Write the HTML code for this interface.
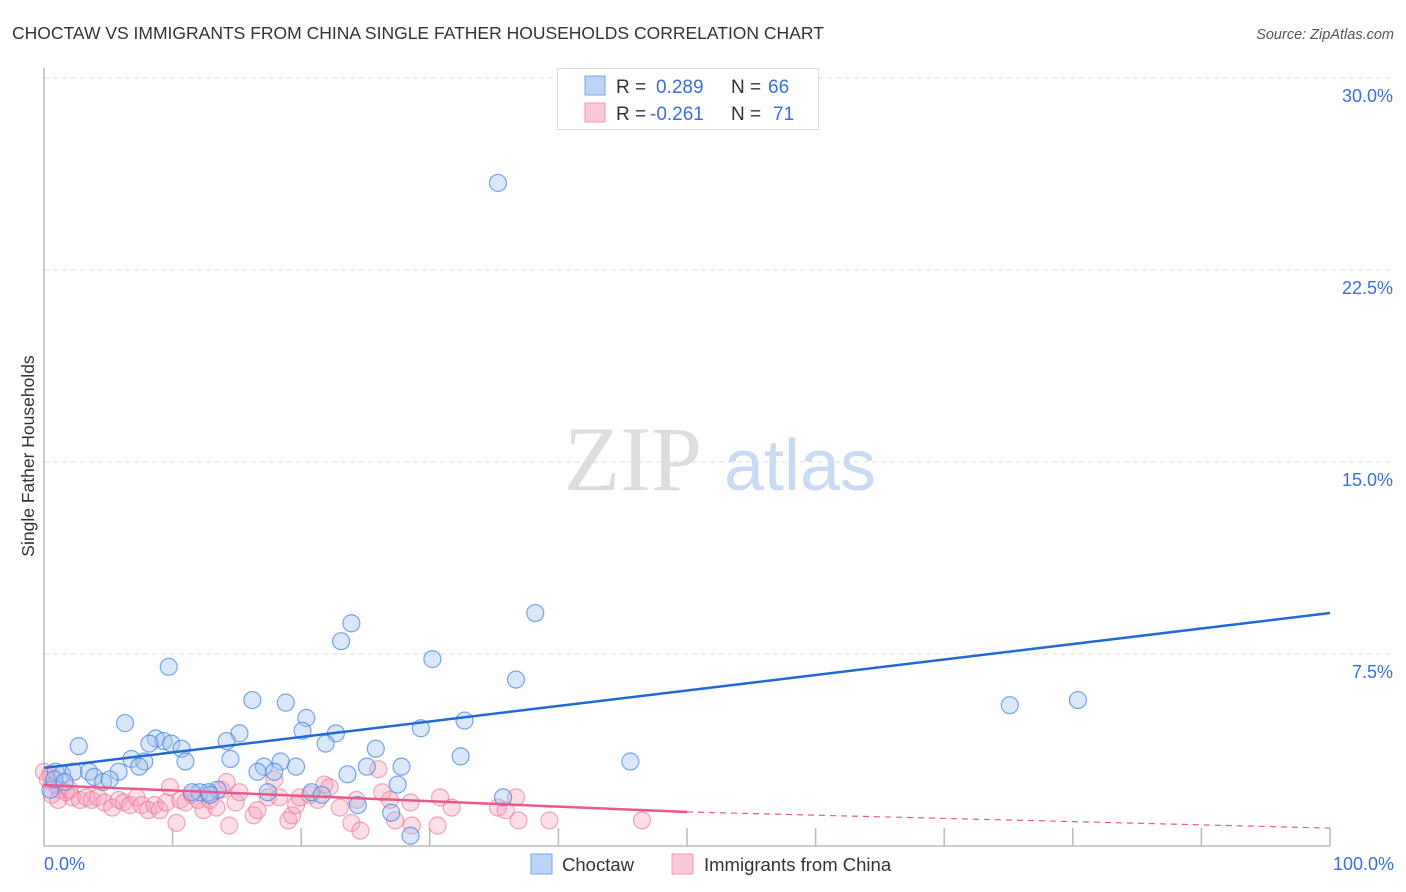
<!DOCTYPE html>
<html><head><meta charset="utf-8"><style>
body{margin:0;background:#fff;font-family:"Liberation Sans",sans-serif}
svg{display:block}
</style></head><body>
<svg id="chart" width="1406" height="892" xmlns="http://www.w3.org/2000/svg">
<text x="12" y="39" font-size="17.5" fill="#333">CHOCTAW VS IMMIGRANTS FROM CHINA SINGLE FATHER HOUSEHOLDS CORRELATION CHART</text>
<text x="1394" y="39" font-size="14.5" fill="#555" font-style="italic" text-anchor="end">Source: ZipAtlas.com</text>
<g>
<text x="633" y="490" font-size="92" font-family="Liberation Serif,serif" fill="#ddd" text-anchor="middle">ZIP</text>
<text x="800" y="490" font-size="72" fill="#c9daf2" text-anchor="middle">atlas</text>
</g>
<g id="grid"></g>
<g id="axes"></g>
<text transform="translate(34,456) rotate(-90)" font-size="17.5" fill="#333" text-anchor="middle">Single Father Households</text>
<g id="pts"></g>
<g id="lines"></g>
<g>
<rect x="557.5" y="68.5" width="261" height="61" fill="#fff" stroke="#ddd"/>
<rect x="585" y="76" width="20" height="19" fill="#bcd4f5" stroke="#7aa6e6"/>
<rect x="585" y="103" width="20" height="19" fill="#fbc9d8" stroke="#f09ab5"/>
<text x="616" y="93" font-size="19" fill="#333">R = <tspan fill="#3a6fd8" x="656">0.289</tspan><tspan x="731" fill="#333">N = </tspan><tspan fill="#3a6fd8" x="768">66</tspan></text>
<text x="616" y="120" font-size="19" fill="#333">R = <tspan fill="#3a6fd8" x="650">-0.261</tspan><tspan x="731" fill="#333">N = </tspan><tspan fill="#3a6fd8" x="773">71</tspan></text>
</g>
<g>
<rect x="531" y="854" width="21" height="20" fill="#bcd4f5" stroke="#7aa6e6"/>
<text x="562" y="871" font-size="18.5" fill="#333">Choctaw</text>
<rect x="672" y="854" width="21" height="20" fill="#fbc9d8" stroke="#f09ab5"/>
<text x="704" y="871" font-size="18.5" fill="#333">Immigrants from China</text>
</g>
</svg>
<script>
const yTicks=[7.5,15,22.5,30];
const yTickLabels=["7.5%","15.0%","22.5%","30.0%"];
const xEndLabels=["0.0%","100.0%"];
const blueX=[35.3,38.2,23.9,23.1,9.7,30.2,36.7,16.2,18.8,75.1,80.4,20.4,6.3,32.7,15.2,29.3,20.1,22.7,8.7,9.3,2.7,8.2,9.9,10.7,21.9,14.2,25.8,32.4,6.8,7.8,7.4,11.0,14.5,18.4,17.1,45.6,5.8,16.6,17.9,19.6,25.1,27.8,23.6,0.9,1.4,2.3,3.5,3.9,4.6,5.1,0.5,27.5,13.5,12.1,11.5,12.8,12.9,17.4,20.8,21.6,35.7,24.4,27.0,28.5,0.8,1.6];
const blueY=[25.9,9.1,8.7,8.0,7.0,7.3,6.5,5.7,5.6,5.5,5.7,5.0,4.8,4.9,4.4,4.6,4.5,4.4,4.2,4.1,3.9,4.0,4.0,3.8,4.0,4.1,3.8,3.5,3.4,3.3,3.1,3.3,3.4,3.3,3.1,3.3,2.9,2.9,2.9,3.1,3.1,3.1,2.8,2.9,2.8,2.9,2.9,2.7,2.5,2.6,2.2,2.4,2.2,2.1,2.1,2.1,2.0,2.1,2.1,2.0,1.9,1.6,1.3,0.4,2.6,2.5];
const pinkX=[0.5,0.9,1.2,1.7,2.2,2.8,3.3,3.7,4.2,4.7,5.3,5.8,6.2,6.7,7.2,7.6,8.1,8.6,9.0,9.5,9.8,10.3,10.6,11.0,11.5,12.0,12.4,12.9,13.4,13.8,14.2,14.4,14.9,15.2,16.3,16.6,17.4,17.9,18.3,19.0,19.3,19.6,19.9,20.7,21.3,21.8,22.2,23.0,23.9,24.3,24.6,26.0,26.3,26.9,27.3,28.5,28.6,30.6,30.8,31.7,35.3,35.9,36.7,36.9,39.3,46.5,0.0,0.3,0.6,1.1,2.0];
const pinkY=[2.8,2.4,2.2,2.1,1.9,1.8,1.9,1.8,1.9,1.7,1.5,1.8,1.7,1.6,1.9,1.6,1.4,1.6,1.4,1.7,2.3,0.9,1.8,1.7,2.0,1.8,1.4,1.8,1.5,2.2,2.5,0.8,1.7,2.1,1.2,1.4,1.9,2.6,1.9,1.0,1.2,1.6,1.9,2.0,1.8,2.4,2.3,1.5,0.9,1.8,0.6,3.0,2.1,1.8,1.0,1.7,0.8,0.8,1.9,1.5,1.5,1.4,1.9,1.0,1.0,1.0,2.9,2.6,2.0,1.8,2.2];
const blueTrend=[[0,3.05],[100,9.1]];
const pinkTrend=[[0,2.38],[50,1.33],[100,0.7]];
const NS="http://www.w3.org/2000/svg";
const X0=44,X1=1330,Y0=846,PY=192/7.5;
const sx=v=>X0+(X1-X0)*v/100, sy=v=>Y0-v*PY;
function mk(t,a,p){const e=document.createElementNS(NS,t);for(const k in a)e.setAttribute(k,a[k]);p.appendChild(e);return e;}
const grid=document.getElementById('grid'),axes=document.getElementById('axes');
yTicks.forEach((t,i)=>{
 const l=mk('line',{x1:X0,x2:1394,y1:sy(t),y2:sy(t),stroke:'#ddd','stroke-dasharray':'5,4'},grid);
 
 
 const tx=mk('text',{x:1393,y:sy(t)+24,'font-size':18,fill:'#3a6fd8','text-anchor':'end'},axes);
 tx.textContent=yTickLabels[i];
 
 
});
let ax=mk('line',{x1:X0,x2:X0,y1:68,y2:846,stroke:'#bbb','stroke-width':1.5},axes);


ax=mk('line',{x1:X0,x2:X1,y1:846,y2:846,stroke:'#bbb','stroke-width':1.5},axes);


for(let i=1;i<=10;i++){const tk=mk('line',{x1:sx(i*10),x2:sx(i*10),y1:828,y2:846,stroke:'#bbb','stroke-width':1.5},axes);
 
 }
let t0=mk('text',{x:44,y:870,'font-size':18,fill:'#3a6fd8'},axes);t0.textContent=xEndLabels[0];


t0=mk('text',{x:1394,y:870,'font-size':18,fill:'#3a6fd8','text-anchor':'end'},axes);t0.textContent=xEndLabels[1];


const pts=document.getElementById('pts');
pinkX.forEach((v,i)=>{const c=mk('circle',{cx:sx(v),cy:sy(pinkY[i]),r:8.5,fill:'rgba(246,160,186,0.35)',stroke:'rgba(236,110,150,0.6)','stroke-width':1.2},pts);
 
 });
blueX.forEach((v,i)=>{const c=mk('circle',{cx:sx(v),cy:sy(blueY[i]),r:8.5,fill:'rgba(160,195,240,0.4)',stroke:'rgba(70,130,220,0.7)','stroke-width':1.2},pts);
 
 });
const lines=document.getElementById('lines');
let bl=mk('line',{x1:sx(blueTrend[0][0]),y1:sy(blueTrend[0][1]),x2:sx(blueTrend[1][0]),y2:sy(blueTrend[1][1]),stroke:'#1f6ad6','stroke-width':2.5},lines);


bl=mk('line',{x1:sx(pinkTrend[0][0]),y1:sy(pinkTrend[0][1]),x2:sx(pinkTrend[1][0]),y2:sy(pinkTrend[1][1]),stroke:'#e85a88','stroke-width':2.5},lines);


bl=mk('line',{x1:sx(pinkTrend[1][0]),y1:sy(pinkTrend[1][1]),x2:sx(pinkTrend[2][0]),y2:sy(pinkTrend[2][1]),stroke:'#e85a88','stroke-width':1.2,'stroke-dasharray':'6,5'},lines);


</script>
</body></html>
